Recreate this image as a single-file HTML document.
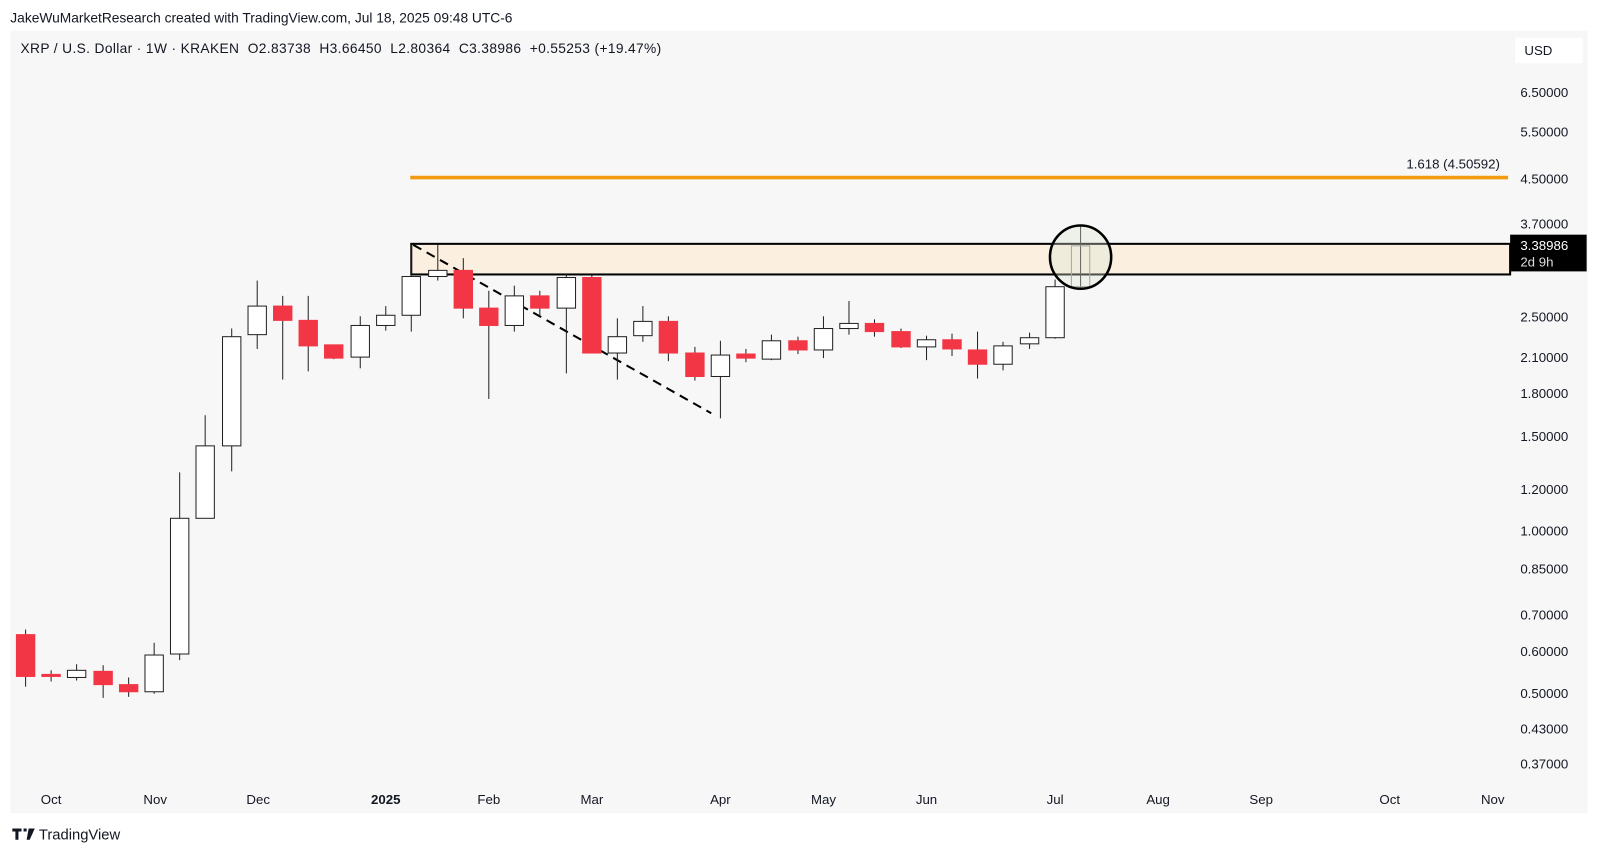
<!DOCTYPE html>
<html><head><meta charset="utf-8"><style>
html,body{margin:0;padding:0;background:#fff;}
svg{display:block;}
text{font-family:"Liberation Sans",sans-serif;}
</style></head><body>
<svg width="1600" height="855" viewBox="0 0 1568 838" xmlns="http://www.w3.org/2000/svg">
<rect x="0" y="0" width="1568" height="838" fill="#fff"/>
<text x="10" y="22" font-size="13.5" fill="#131722">JakeWuMarketResearch created with TradingView.com, Jul 18, 2025 09:48 UTC-6</text>
<rect x="10" y="30" width="1546" height="767" fill="#f7f7f7"/>
<text x="20" y="52" font-size="13.5" fill="#131722" style="white-space:pre" xml:space="preserve" textLength="628" lengthAdjust="spacing">XRP / U.S. Dollar · 1W · KRAKEN  O2.83738  H3.66450  L2.80364  C3.38986  +0.55253 (+19.47%)</text>
<rect x="1485" y="37" width="66" height="25" fill="#fff"/>
<text x="1494" y="54" font-size="13" fill="#131722">USD</text>
<rect x="403" y="239" width="1077" height="30" fill="#fbf0e0" stroke="#000" stroke-width="2"/>
<line x1="402" y1="174" x2="1478" y2="174" stroke="#f39c12" stroke-width="3.5"/>
<text x="1470" y="165" font-size="13" fill="#131722" text-anchor="end">1.618 (4.50592)</text>
<line x1="405" y1="240" x2="697" y2="405" stroke="#000" stroke-width="2" stroke-dasharray="9,6"/>
<g stroke="#222" stroke-width="1">
<line x1="25" y1="617" x2="25" y2="673"/><rect x="16" y="622" width="18" height="41" fill="#f23645" stroke="#f23645"/>
<line x1="50" y1="657" x2="50" y2="668"/><rect x="41" y="661" width="18" height="2" fill="#f23645" stroke="#f23645"/>
<line x1="75" y1="651" x2="75" y2="667"/><rect x="66" y="657" width="18" height="7" fill="#fff"/>
<line x1="101" y1="652" x2="101" y2="684"/><rect x="92" y="658" width="18" height="13" fill="#f23645" stroke="#f23645"/>
<line x1="126" y1="664" x2="126" y2="683"/><rect x="117" y="671" width="18" height="7" fill="#f23645" stroke="#f23645"/>
<line x1="151" y1="630" x2="151" y2="680"/><rect x="142" y="642" width="18" height="36" fill="#fff"/>
<line x1="176" y1="463" x2="176" y2="647"/><rect x="167" y="508" width="18" height="133" fill="#fff"/>
<line x1="201" y1="407" x2="201" y2="508"/><rect x="192" y="437" width="18" height="71" fill="#fff"/>
<line x1="227" y1="322" x2="227" y2="462"/><rect x="218" y="330" width="18" height="107" fill="#fff"/>
<line x1="252" y1="275" x2="252" y2="342"/><rect x="243" y="300" width="18" height="28" fill="#fff"/>
<line x1="277" y1="290" x2="277" y2="372"/><rect x="268" y="300" width="18" height="14" fill="#f23645" stroke="#f23645"/>
<line x1="302" y1="290" x2="302" y2="364"/><rect x="293" y="314" width="18" height="25" fill="#f23645" stroke="#f23645"/>
<line x1="327" y1="338" x2="327" y2="352"/><rect x="318" y="338" width="18" height="13" fill="#f23645" stroke="#f23645"/>
<line x1="353" y1="310" x2="353" y2="361"/><rect x="344" y="319" width="18" height="31" fill="#fff"/>
<line x1="378" y1="300" x2="378" y2="324"/><rect x="369" y="309" width="18" height="10" fill="#fff"/>
<line x1="403" y1="240" x2="403" y2="325"/><rect x="394" y="271" width="18" height="38" fill="#fff"/>
<line x1="429" y1="240" x2="429" y2="275"/><rect x="420" y="265" width="18" height="6" fill="#fff"/>
<line x1="454" y1="253" x2="454" y2="312"/><rect x="445" y="265" width="18" height="37" fill="#f23645" stroke="#f23645"/>
<line x1="479" y1="285" x2="479" y2="391"/><rect x="470" y="302" width="18" height="17" fill="#f23645" stroke="#f23645"/>
<line x1="504" y1="280" x2="504" y2="325"/><rect x="495" y="290" width="18" height="29" fill="#fff"/>
<line x1="529" y1="285" x2="529" y2="310"/><rect x="520" y="290" width="18" height="12" fill="#f23645" stroke="#f23645"/>
<line x1="555" y1="268" x2="555" y2="366"/><rect x="546" y="272" width="18" height="30" fill="#fff"/>
<line x1="580" y1="270" x2="580" y2="346"/><rect x="571" y="272" width="18" height="74" fill="#f23645" stroke="#f23645"/>
<line x1="605" y1="312" x2="605" y2="372"/><rect x="596" y="330" width="18" height="16" fill="#fff"/>
<line x1="630" y1="300" x2="630" y2="335"/><rect x="621" y="315" width="18" height="14" fill="#fff"/>
<line x1="655" y1="310" x2="655" y2="354"/><rect x="646" y="315" width="18" height="31" fill="#f23645" stroke="#f23645"/>
<line x1="681" y1="340" x2="681" y2="373"/><rect x="672" y="346" width="18" height="23" fill="#f23645" stroke="#f23645"/>
<line x1="706" y1="334" x2="706" y2="410"/><rect x="697" y="348" width="18" height="21" fill="#fff"/>
<line x1="731" y1="342" x2="731" y2="355"/><rect x="722" y="347" width="18" height="4" fill="#f23645" stroke="#f23645"/>
<line x1="756" y1="328" x2="756" y2="353"/><rect x="747" y="334" width="18" height="18" fill="#fff"/>
<line x1="782" y1="330" x2="782" y2="347"/><rect x="773" y="334" width="18" height="9" fill="#f23645" stroke="#f23645"/>
<line x1="807" y1="310" x2="807" y2="351"/><rect x="798" y="322" width="18" height="21" fill="#fff"/>
<line x1="832" y1="295" x2="832" y2="328"/><rect x="823" y="317" width="18" height="5" fill="#fff"/>
<line x1="857" y1="313" x2="857" y2="330"/><rect x="848" y="317" width="18" height="8" fill="#f23645" stroke="#f23645"/>
<line x1="883" y1="322" x2="883" y2="341"/><rect x="874" y="325" width="18" height="15" fill="#f23645" stroke="#f23645"/>
<line x1="908" y1="329" x2="908" y2="353"/><rect x="899" y="333" width="18" height="7" fill="#fff"/>
<line x1="933" y1="327" x2="933" y2="349"/><rect x="924" y="333" width="18" height="9" fill="#f23645" stroke="#f23645"/>
<line x1="958" y1="325" x2="958" y2="371"/><rect x="949" y="343" width="18" height="14" fill="#f23645" stroke="#f23645"/>
<line x1="983" y1="335" x2="983" y2="363"/><rect x="974" y="339" width="18" height="18" fill="#fff"/>
<line x1="1009" y1="326" x2="1009" y2="342"/><rect x="1000" y="331" width="18" height="6" fill="#fff"/>
<line x1="1034" y1="274" x2="1034" y2="332"/><rect x="1025" y="281" width="18" height="50" fill="#fff"/>
<line x1="1059" y1="222" x2="1059" y2="282"/><rect x="1050" y="241" width="18" height="40" fill="none" stroke="#888"/>
</g>
<ellipse cx="1059" cy="252" rx="30" ry="31" fill="rgba(220,230,210,0.35)" stroke="#000" stroke-width="2.5"/>
<g font-size="13" fill="#131722">
<text x="1490" y="95">6.50000</text>
<text x="1490" y="134">5.50000</text>
<text x="1490" y="180">4.50000</text>
<text x="1490" y="224">3.70000</text>
<text x="1490" y="315">2.50000</text>
<text x="1490" y="355">2.10000</text>
<text x="1490" y="390">1.80000</text>
<text x="1490" y="432">1.50000</text>
<text x="1490" y="484">1.20000</text>
<text x="1490" y="525">1.00000</text>
<text x="1490" y="562">0.85000</text>
<text x="1490" y="607">0.70000</text>
<text x="1490" y="643">0.60000</text>
<text x="1490" y="684">0.50000</text>
<text x="1490" y="719">0.43000</text>
<text x="1490" y="753">0.37000</text>
</g>
<rect x="1480" y="230" width="75" height="36" fill="#000"/>
<text x="1490" y="245" font-size="13" fill="#fff">3.38986</text>
<text x="1490" y="261" font-size="13" fill="#ddd">2d 9h</text>
<g font-size="13" fill="#131722" text-anchor="middle">
<text x="50" y="788">Oct</text><text x="152" y="788">Nov</text><text x="253" y="788">Dec</text>
<text x="378" y="788" font-weight="bold">2025</text><text x="479" y="788">Feb</text><text x="580" y="788">Mar</text>
<text x="706" y="788">Apr</text><text x="807" y="788">May</text><text x="908" y="788">Jun</text>
<text x="1034" y="788">Jul</text><text x="1135" y="788">Aug</text><text x="1236" y="788">Sep</text>
<text x="1362" y="788">Oct</text><text x="1463" y="788">Nov</text>
</g>
<path d="M12 812h9v3h-3v8h-3v-8h-3z M23 812h3v3h-3z M28 812h6l-5 11h-3z" fill="#131722"/>
<text x="38" y="823" font-size="14.5" fill="#131722">TradingView</text>
</svg>
</body></html>
